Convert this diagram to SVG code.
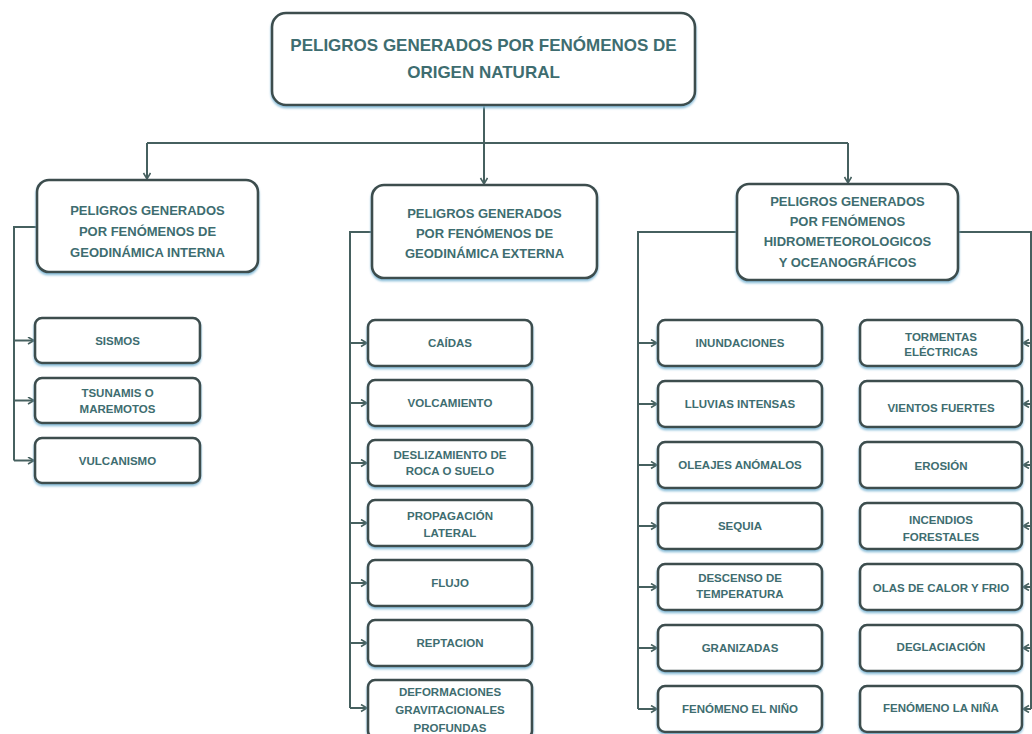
<svg xmlns="http://www.w3.org/2000/svg" width="1032" height="734" viewBox="0 0 1032 734">
<style>
.box{fill:#ffffff;stroke:#3d4d4e;stroke-width:2.6;filter:url(#sh)}
.t{font-family:"Liberation Sans",Arial,sans-serif;font-weight:bold;fill:#3e6d70;text-anchor:middle}
.t1{font-size:17px}
.t2{font-size:13px}
.t3{font-size:11.5px}
.c{fill:none;stroke:#46605f;stroke-width:2}
.a{marker-end:url(#ar)}
</style>
<defs>
<filter id="sh" x="-10%" y="-10%" width="120%" height="130%">
<feDropShadow dx="0" dy="2" stdDeviation="1" flood-color="#7fb8d6" flood-opacity="0.9"/>
</filter>
<marker id="ar" markerUnits="userSpaceOnUse" markerWidth="10" markerHeight="10" refX="7" refY="4" orient="auto">
<path d="M1,0.5 L7,4 L1,7.5" fill="none" stroke="#46605f" stroke-width="1.6"/>
</marker>
</defs>

<g id="connectors">
<path class="c a" d="M484,105 V184"/>
<path class="c" d="M147,143 H848"/>
<path class="c a" d="M147,143 V179"/>
<path class="c a" d="M848,143 V183"/>

<path class="c" d="M37,227 H14 V460.5"/>
<path class="c a" d="M14,340.5 H34"/>
<path class="c a" d="M14,400.5 H34"/>
<path class="c a" d="M14,460.5 H34"/>

<path class="c" d="M372,232 H350 V708"/>
<path class="c a" d="M350,343 H367"/>
<path class="c a" d="M350,403 H367"/>
<path class="c a" d="M350,463 H367"/>
<path class="c a" d="M350,523 H367"/>
<path class="c a" d="M350,583 H367"/>
<path class="c a" d="M350,643 H367"/>
<path class="c a" d="M350,708 H367"/>

<path class="c" d="M737,232 H638 V709"/>
<path class="c a" d="M638,343 H657"/>
<path class="c a" d="M638,404 H657"/>
<path class="c a" d="M638,465 H657"/>
<path class="c a" d="M638,526 H657"/>
<path class="c a" d="M638,587 H657"/>
<path class="c a" d="M638,648 H657"/>
<path class="c a" d="M638,709 H657"/>

<path class="c" d="M958,232 H1031 V709"/>
<path class="c a" d="M1031,343 H1023"/>
<path class="c a" d="M1031,404 H1023"/>
<path class="c a" d="M1031,465 H1023"/>
<path class="c a" d="M1031,526 H1023"/>
<path class="c a" d="M1031,587 H1023"/>
<path class="c a" d="M1031,648 H1023"/>
<path class="c a" d="M1031,709 H1023"/>
</g>

<g id="root"><rect class="box" x="272" y="13" width="423" height="92" rx="14"/>
<text class="t t1" x="483.5" y="51">PELIGROS GENERADOS POR FENÓMENOS DE</text>
<text class="t t1" x="483.5" y="78">ORIGEN NATURAL</text></g>

<g id="interna"><rect class="box" x="37" y="180" width="221" height="92" rx="12"/>
<text class="t t2" x="147.5" y="215">PELIGROS GENERADOS</text>
<text class="t t2" x="147.5" y="236">POR FENÓMENOS DE</text>
<text class="t t2" x="147.5" y="257">GEODINÁMICA INTERNA</text></g>

<g id="externa"><rect class="box" x="372" y="185" width="225" height="93" rx="12"/>
<text class="t t2" x="484.5" y="218">PELIGROS GENERADOS</text>
<text class="t t2" x="484.5" y="238">POR FENÓMENOS DE</text>
<text class="t t2" x="484.5" y="258">GEODINÁMICA EXTERNA</text></g>

<g id="hidro"><rect class="box" x="737" y="184" width="221" height="96" rx="12"/>
<text class="t t2" x="847.5" y="206">PELIGROS GENERADOS</text>
<text class="t t2" x="847.5" y="226">POR FENÓMENOS</text>
<text class="t t2" x="847.5" y="246">HIDROMETEOROLOGICOS</text>
<text class="t t2" x="847.5" y="267">Y OCEANOGRÁFICOS</text></g>

<g id="sismos"><rect class="box" x="35" y="318" width="165" height="45" rx="7"/>
<text class="t t3" x="117.5" y="344.5">SISMOS</text></g>
<g id="tsunamis"><rect class="box" x="35" y="378" width="165" height="45" rx="7"/>
<text class="t t3" x="117.5" y="397">TSUNAMIS O</text>
<text class="t t3" x="117.5" y="413">MAREMOTOS</text></g>
<g id="vulcanismo"><rect class="box" x="35" y="438" width="165" height="45" rx="7"/>
<text class="t t3" x="117.5" y="464.5">VULCANISMO</text></g>

<g id="caidas"><rect class="box" x="368" y="320" width="164" height="46" rx="7"/>
<text class="t t3" x="450" y="347">CAÍDAS</text></g>
<g id="volcamiento"><rect class="box" x="368" y="380" width="164" height="46" rx="7"/>
<text class="t t3" x="450" y="407">VOLCAMIENTO</text></g>
<g id="deslizamiento"><rect class="box" x="368" y="440" width="164" height="46" rx="7"/>
<text class="t t3" x="450" y="459">DESLIZAMIENTO DE</text>
<text class="t t3" x="450" y="475">ROCA O SUELO</text></g>
<g id="propagacion"><rect class="box" x="368" y="500" width="164" height="46" rx="7"/>
<text class="t t3" x="450" y="520">PROPAGACIÓN</text>
<text class="t t3" x="450" y="537">LATERAL</text></g>
<g id="flujo"><rect class="box" x="368" y="560" width="164" height="46" rx="7"/>
<text class="t t3" x="450" y="587">FLUJO</text></g>
<g id="reptacion"><rect class="box" x="368" y="620" width="164" height="46" rx="7"/>
<text class="t t3" x="450" y="647">REPTACION</text></g>
<g id="deformaciones"><rect class="box" x="368" y="680" width="164" height="58" rx="7"/>
<text class="t t3" x="450" y="696">DEFORMACIONES</text>
<text class="t t3" x="450" y="714">GRAVITACIONALES</text>
<text class="t t3" x="450" y="732">PROFUNDAS</text></g>

<g id="inundaciones"><rect class="box" x="658" y="320" width="164" height="46" rx="7"/>
<text class="t t3" x="740" y="347">INUNDACIONES</text></g>
<g id="lluvias"><rect class="box" x="658" y="381" width="164" height="46" rx="7"/>
<text class="t t3" x="740" y="408">LLUVIAS INTENSAS</text></g>
<g id="oleajes"><rect class="box" x="658" y="442" width="164" height="46" rx="7"/>
<text class="t t3" x="740" y="469">OLEAJES ANÓMALOS</text></g>
<g id="sequia"><rect class="box" x="658" y="503" width="164" height="46" rx="7"/>
<text class="t t3" x="740" y="530">SEQUIA</text></g>
<g id="descenso"><rect class="box" x="658" y="564" width="164" height="46" rx="7"/>
<text class="t t3" x="740" y="582">DESCENSO DE</text>
<text class="t t3" x="740" y="598">TEMPERATURA</text></g>
<g id="granizadas"><rect class="box" x="658" y="625" width="164" height="46" rx="7"/>
<text class="t t3" x="740" y="652">GRANIZADAS</text></g>
<g id="nino"><rect class="box" x="658" y="686" width="164" height="46" rx="7"/>
<text class="t t3" x="740" y="713">FENÓMENO EL NIÑO</text></g>

<g id="tormentas"><rect class="box" x="860" y="320" width="162" height="46" rx="7"/>
<text class="t t3" x="941" y="341">TORMENTAS</text>
<text class="t t3" x="941" y="356">ELÉCTRICAS</text></g>
<g id="vientos"><rect class="box" x="860" y="381" width="162" height="46" rx="7"/>
<text class="t t3" x="941" y="412">VIENTOS FUERTES</text></g>
<g id="erosion"><rect class="box" x="860" y="442" width="162" height="46" rx="7"/>
<text class="t t3" x="941" y="470">EROSIÓN</text></g>
<g id="incendios"><rect class="box" x="860" y="503" width="162" height="46" rx="7"/>
<text class="t t3" x="941" y="524">INCENDIOS</text>
<text class="t t3" x="941" y="541">FORESTALES</text></g>
<g id="olas"><rect class="box" x="860" y="564" width="162" height="46" rx="7"/>
<text class="t t3" x="941" y="592">OLAS DE CALOR Y FRIO</text></g>
<g id="deglaciacion"><rect class="box" x="860" y="625" width="162" height="46" rx="7"/>
<text class="t t3" x="941" y="651">DEGLACIACIÓN</text></g>
<g id="nina"><rect class="box" x="860" y="686" width="162" height="46" rx="7"/>
<text class="t t3" x="941" y="712">FENÓMENO LA NIÑA</text></g>
</svg>
